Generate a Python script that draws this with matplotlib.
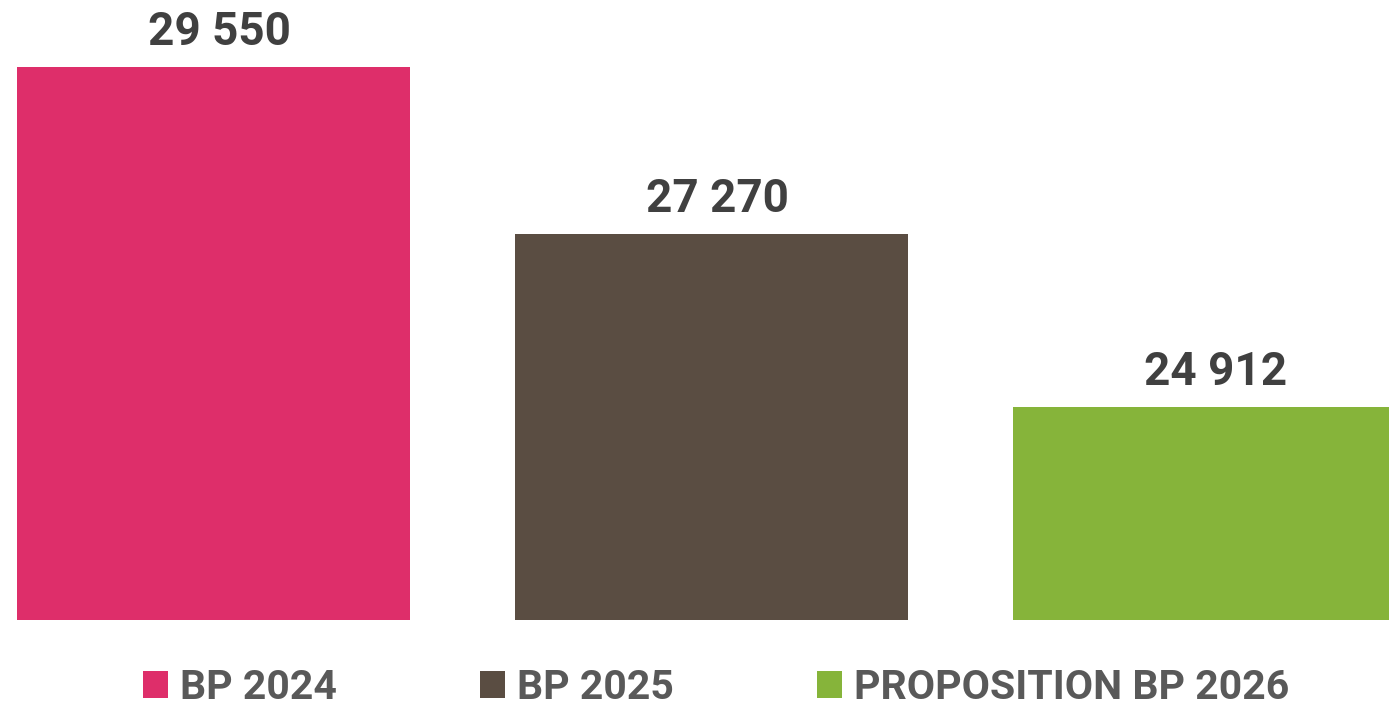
import matplotlib
matplotlib.use("Agg")
import matplotlib.pyplot as plt
from matplotlib.patches import Patch

categories = ["BP 2024", "BP 2025", "PROPOSITION BP 2026"]
values = [29550, 27270, 24912]
labels = ["29 550", "27 270", "24 912"]
colors = ["#DE2E6A", "#5A4D42", "#86B43A"]

plt.rcParams['font.family'] = ['Roboto', 'DejaVu Sans']

fig = plt.figure(figsize=(13.89, 7.05), dpi=100)
ax = fig.add_axes([0, 0.1206, 1, 0.8794])

x = range(len(values))
ax.bar(x, values, width=0.79, color=colors, bottom=0)
for i, v in enumerate(values):
    ax.annotate(labels[i], (i, v), xytext=(4.3, 15.8), textcoords="offset points",
                ha="center", va="baseline", fontsize=33, fontweight="bold", color="#404040")

ax.set_ylim(22000, 30470)
ax.set_xlim(-0.429, 2.361)
ax.axis("off")

handles = [Patch(facecolor=c, edgecolor="none") for c in colors]
leg = fig.legend(handles, categories, loc="lower center", bbox_to_anchor=(716 / 1389, -0.055),
                 ncol=3, frameon=False, handlelength=0.61, handleheight=0.61,
                 handletextpad=0.29, columnspacing=3.49,
                 prop={"weight": "bold", "size": 29.5})
for t in leg.get_texts():
    t.set_color("#595959")

fig.savefig("out.png", dpi=100)
